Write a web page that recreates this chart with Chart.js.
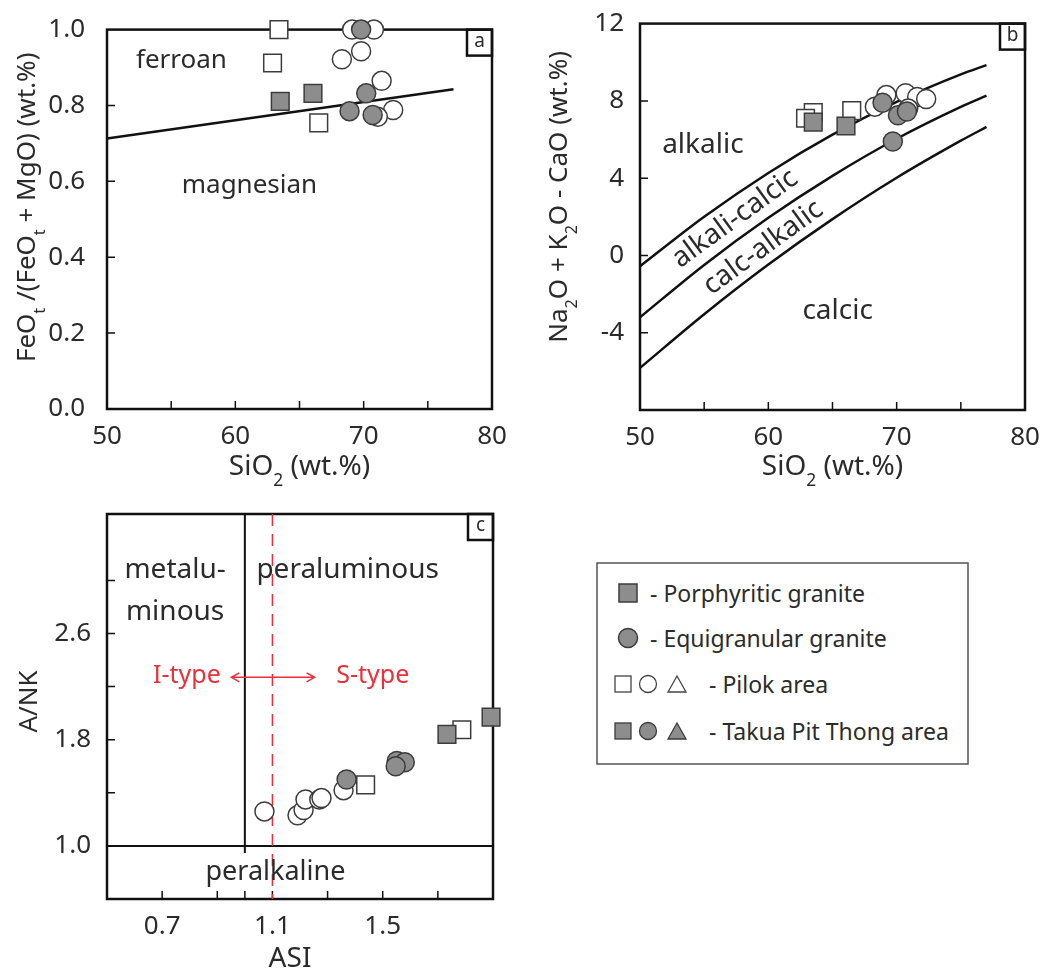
<!DOCTYPE html>
<html>
<head>
<meta charset="utf-8">
<script src="https://cdn.jsdelivr.net/npm/chart.js@4.4.0/dist/chart.umd.min.js"></script>
<style>
  body { margin: 0; background: #fff; width: 1045px; height: 972px; position: relative; overflow: hidden; font-family: 'Noto Sans', sans-serif; }
  canvas { position: absolute; }
  #legend { position: absolute; left: 596px; top: 562px; }
</style>
</head>
<body>
<canvas id="chartA" width="520" height="492" style="left:0;top:0"></canvas>
<canvas id="chartB" width="515" height="492" style="left:530px;top:0"></canvas>
<canvas id="chartC" width="560" height="492" style="left:0;top:480px"></canvas>

<svg id="legend" width="374" height="204" font-family="'Noto Sans', sans-serif" font-size="23" fill="#2b2b2b">
  <rect x="1" y="1" width="371" height="201" fill="#fff" stroke="#555" stroke-width="1.5"/>
  <rect x="23" y="22" width="18" height="18" fill="#8d8d8d" stroke="#3c3c3c" stroke-width="1.5"/>
  <text x="54" y="40">- Porphyritic granite</text>
  <circle cx="32" cy="76" r="9.5" fill="#8d8d8d" stroke="#3c3c3c" stroke-width="1.5"/>
  <text x="54" y="85">- Equigranular granite</text>
  <rect x="19" y="114" width="16" height="16" fill="#fff" stroke="#444" stroke-width="1.3"/>
  <circle cx="52" cy="122" r="8.5" fill="#fff" stroke="#444" stroke-width="1.3"/>
  <polygon points="72,130 90,130 81,114" fill="#fff" stroke="#444" stroke-width="1.3"/>
  <text x="113" y="131">- Pilok area</text>
  <rect x="19" y="161" width="16" height="16" fill="#8d8d8d" stroke="#3c3c3c" stroke-width="1.3"/>
  <circle cx="52" cy="169" r="8.5" fill="#8d8d8d" stroke="#3c3c3c" stroke-width="1.3"/>
  <polygon points="72,177 90,177 81,161" fill="#8d8d8d" stroke="#3c3c3c" stroke-width="1.3"/>
  <text x="113" y="178">- Takua Pit Thong area</text>
</svg>

<script>
// ---- panel a : SiO2 vs FeOt/(FeOt+MgO) ----
const siA_pilokPorph = [63.4, 62.9, 66.5];
const feA_pilokPorph = [1.0, 0.912, 0.754];
const siA_tptPorph = [63.5, 66.05];
const feA_tptPorph = [0.811, 0.832];
const siA_pilokEqui = [69.1, 70.8, 68.3, 69.8, 71.4, 72.3, 71.1];
const feA_pilokEqui = [1.0, 1.0, 0.922, 0.943, 0.865, 0.788, 0.77];
const siA_tptEqui = [69.8, 70.2, 68.9, 70.7];
const feA_tptEqui = [1.0, 0.832, 0.785, 0.775];
const ferroanLineX = [50, 77];
const ferroanLineY = [0.713, 0.843];

// ---- panel b : SiO2 vs Na2O + K2O - CaO ----
const siB_pilokPorph = [63.5, 62.9, 66.5];
const maliB_pilokPorph = [7.4, 7.1, 7.5];
const siB_tptPorph = [63.5, 66.05];
const maliB_tptPorph = [6.9, 6.7];
const siB_pilokEqui = [68.3, 69.2, 70.7, 71.6, 72.3, 70.9];
const maliB_pilokEqui = [7.7, 8.3, 8.4, 8.2, 8.1, 7.6];
const siB_tptEqui = [68.9, 70.1, 70.8, 69.7];
const maliB_tptEqui = [7.9, 7.25, 7.45, 5.9];
const maliCurveX = [50, 55, 60, 65, 70, 75, 77];
const alkalicBoundary = [-0.56, 2.0, 4.27, 6.25, 7.95, 9.37, 9.85];
const alkaliCalcicBoundary = [-3.2, -0.49, 1.95, 4.12, 6.04, 7.69, 8.27];
const calcAlkalicBoundary = [-5.82, -3.04, -0.47, 1.88, 4.02, 5.94, 6.65];

// ---- panel c : ASI vs A/NK ----
const asi_pilokPorph = [1.787, 1.438];
const ank_pilokPorph = [1.875, 1.46];
const asi_tptPorph = [1.893, 1.733];
const ank_tptPorph = [1.97, 1.84];
const asi_pilokEqui = [1.071, 1.191, 1.213, 1.22, 1.27, 1.278, 1.358];
const ank_pilokEqui = [1.26, 1.23, 1.27, 1.35, 1.35, 1.36, 1.42];
const asi_tptEqui = [1.369, 1.551, 1.58, 1.547];
const ank_tptEqui = [1.50, 1.64, 1.63, 1.60];

// ---- ticks ----
const ticksSiO2 = [50, 55, 60, 65, 70, 75, 80];
const labelsSiO2 = [50, 60, 70, 80];
const ticksFe = [0, 0.2, 0.4, 0.6, 0.8, 1.0];
const ticksMali = [-8, -4, 0, 4, 8, 12];
const labelsMali = [-4, 0, 4, 8, 12];
const ticksAsi = [0.7, 0.9, 1.0, 1.1, 1.3, 1.5, 1.7];
const labelsAsi = [0.7, 1.1, 1.5];
const ticksAnk = [1.0, 1.4, 1.8, 2.2, 2.6, 3.0];
const labelsAnk = [1.0, 1.8, 2.6];

const FONT = "'Noto Sans', sans-serif";
const INK = '#2b2b2b';
const GRAY = '#8d8d8d';
const EDGE = '#3c3c3c';
const RED = '#e8313a';

const pts = (xs, ys) => xs.map((x, i) => ({ x: x, y: ys[i] }));

function markers(xs, ys, style, filled, order) {
    return {
        type: 'scatter',
        data: pts(xs, ys),
        pointStyle: style,
        pointRadius: style === 'rect' ? 12.5 : 9.5,
        backgroundColor: filled ? GRAY : '#fff',
        borderColor: EDGE,
        borderWidth: 1.5,
        clip: false,
        order: order
    };
}

function curve(xs, ys) {
    return {
        type: 'line',
        data: pts(xs, ys),
        borderColor: '#111',
        borderWidth: 2.5,
        pointRadius: 0,
        cubicInterpolationMode: 'monotone',
        fill: false,
        clip: false,
        order: 10
    };
}

function axis(min, max, tickVals, labelVals, fmt, pad, fit) {
    return {
        type: 'linear',
        min: min,
        max: max,
        grid: { display: false },
        border: { display: false },
        afterBuildTicks: s => { s.ticks = tickVals.map(v => ({ value: v })); },
        afterFit: fit,
        ticks: {
            autoSkip: false,
            maxRotation: 0,
            padding: pad,
            color: INK,
            font: { family: FONT, size: 26 },
            callback: v => labelVals.some(l => Math.abs(l - v) < 1e-9) ? fmt(v) : ''
        }
    };
}

// draws text with subscripts, centred on cx, baseline at by
function drawRich(ctx, parts, cx, by, size) {
    const sub = size * 0.62;
    let w = 0;
    parts.forEach(([t, s]) => { ctx.font = `${s ? sub : size}px ${FONT}`; w += ctx.measureText(t).width; });
    let xx = cx - w / 2;
    ctx.textAlign = 'left';
    ctx.textBaseline = 'alphabetic';
    parts.forEach(([t, s]) => {
        ctx.font = `${s ? sub : size}px ${FONT}`;
        ctx.fillText(t, xx, by + (s ? size * 0.38 : 0));
        xx += ctx.measureText(t).width;
    });
}

// frame, inward ticks, panel letter, region labels, titles
const deco = {
    id: 'deco',
    beforeDatasetsDraw(chart, args, o) {
        const { ctx, chartArea: a, scales: { x, y } } = chart;
        const X = v => x.getPixelForValue(v);
        const Y = v => y.getPixelForValue(v);
        ctx.save();
        ctx.strokeStyle = '#111';
        ctx.lineWidth = 2.5;
        ctx.strokeRect(a.left, a.top, a.width, a.height);

        ctx.lineWidth = 1.5;
        ctx.beginPath();
        x.ticks.forEach(t => {
            const px = X(t.value);
            if (px <= a.left + 2 || px >= a.right - 2) return;
            ctx.moveTo(px, a.bottom); ctx.lineTo(px, a.bottom - 8);
        });
        y.ticks.forEach(t => {
            const py = Y(t.value);
            if (py <= a.top + 2 || py >= a.bottom - 2) return;
            ctx.moveTo(a.left, py); ctx.lineTo(a.left + 8, py);
        });
        ctx.stroke();

        // letter box
        ctx.lineWidth = 2.5;
        ctx.strokeRect(a.right - 25, a.top, 25, 26);
        ctx.fillStyle = INK;
        ctx.font = `19px ${FONT}`;
        ctx.textAlign = 'center';
        ctx.textBaseline = 'middle';
        ctx.fillText(o.letter, a.right - 12.5, a.top + 12);

        (o.segs || []).forEach(s => {
            ctx.beginPath();
            ctx.strokeStyle = s.color || '#111';
            ctx.lineWidth = s.width || 2;
            ctx.setLineDash(s.dash || []);
            ctx.moveTo(X(s.x1), Y(s.y1));
            ctx.lineTo(X(s.x2), Y(s.y2) + (s.extend || 0));
            ctx.stroke();
            ctx.setLineDash([]);
        });

        (o.arrows || []).forEach(s => {
            const x1 = X(s.x1), x2 = X(s.x2), py = Y(s.y);
            ctx.beginPath();
            ctx.strokeStyle = s.color;
            ctx.lineWidth = 1.5;
            ctx.moveTo(x1, py); ctx.lineTo(x2, py);
            ctx.moveTo(x1 + 8, py - 4.5); ctx.lineTo(x1, py); ctx.lineTo(x1 + 8, py + 4.5);
            ctx.moveTo(x2 - 8, py - 4.5); ctx.lineTo(x2, py); ctx.lineTo(x2 - 8, py + 4.5);
            ctx.stroke();
        });

        (o.texts || []).forEach(t => {
            ctx.save();
            ctx.translate(X(t.x), Y(t.y));
            ctx.rotate((t.rot || 0) * Math.PI / 180);
            ctx.fillStyle = t.color || INK;
            ctx.font = `${t.size}px ${FONT}`;
            ctx.textAlign = 'center';
            ctx.textBaseline = 'middle';
            ctx.fillText(t.text, 0, 0);
            ctx.restore();
        });

        // axis titles
        ctx.fillStyle = INK;
        drawRich(ctx, o.xTitle, (a.left + a.right) / 2 + (o.xShift || 0), a.bottom + o.xGap, 28);
        ctx.translate(a.left - o.yGap, (a.top + a.bottom) / 2 + o.yShift);
        ctx.rotate(-Math.PI / 2);
        drawRich(ctx, o.yTitle, 0, 0, 26);
        ctx.restore();
    }
};

const one = v => v.toFixed(1);
const int = v => String(v);

// ---- chart a ----
new Chart(document.getElementById('chartA'), {
    type: 'scatter',
    data: {
        datasets: [
            markers(siA_tptPorph, feA_tptPorph, 'rect', true, 1),
            markers(siA_tptEqui, feA_tptEqui, 'circle', true, 2),
            markers(siA_pilokPorph, feA_pilokPorph, 'rect', false, 3),
            markers(siA_pilokEqui, feA_pilokEqui, 'circle', false, 4),
            curve(ferroanLineX, ferroanLineY)
        ]
    },
    options: {
        responsive: false,
        animation: false,
        events: [],
        layout: { padding: { top: 23, right: 28, left: 0, bottom: 0 } },
        scales: {
            x: axis(50, 80, ticksSiO2, labelsSiO2, int, 4, s => { s.height = 83; }),
            y: axis(0, 1, ticksFe, ticksFe, one, 14, s => { s.width = 107; })
        },
        plugins: {
            legend: { display: false },
            tooltip: { enabled: false },
            deco: {
                letter: 'a',
                texts: [
                    { x: 55.8, y: 0.917, text: 'ferroan', size: 26 },
                    { x: 61.1, y: 0.59, text: 'magnesian', size: 26 }
                ],
                xTitle: [['SiO', 0], ['2', 1], [' (wt.%)', 0]],
                yTitle: [['FeO', 0], ['t', 1], [' /(FeO', 0], ['t', 1], [' + MgO) (wt.%)', 0]],
                xGap: 66, yGap: 72, yShift: -12
            }
        }
    },
    plugins: [deco]
});

// ---- chart b ----
new Chart(document.getElementById('chartB'), {
    type: 'scatter',
    data: {
        datasets: [
            markers(siB_tptPorph, maliB_tptPorph, 'rect', true, 1),
            markers(siB_tptEqui, maliB_tptEqui, 'circle', true, 2),
            markers(siB_pilokPorph, maliB_pilokPorph, 'rect', false, 3),
            markers(siB_pilokEqui, maliB_pilokEqui, 'circle', false, 4),
            curve(maliCurveX, alkalicBoundary),
            curve(maliCurveX, alkaliCalcicBoundary),
            curve(maliCurveX, calcAlkalicBoundary)
        ]
    },
    options: {
        responsive: false,
        animation: false,
        events: [],
        layout: { padding: { top: 23, right: 20, left: 0, bottom: 0 } },
        scales: {
            x: axis(50, 80, ticksSiO2, labelsSiO2, int, 4, s => { s.height = 82; }),
            y: axis(-8, 12, ticksMali, labelsMali, int, 8, s => { s.width = 110; })
        },
        plugins: {
            legend: { display: false },
            tooltip: { enabled: false },
            deco: {
                letter: 'b',
                texts: [
                    { x: 54.9, y: 5.7, text: 'alkalic', size: 28 },
                    { x: 57.4, y: 1.9, text: 'alkali-calcic', size: 28, rot: -36 },
                    { x: 59.6, y: 0.4, text: 'calc-alkalic', size: 28, rot: -36 },
                    { x: 65.4, y: -2.9, text: 'calcic', size: 28 }
                ],
                xTitle: [['SiO', 0], ['2', 1], [' (wt.%)', 0]],
                yTitle: [['Na', 0], ['2', 1], ['O + K', 0], ['2', 1], ['O - CaO (wt.%)', 0]],
                xGap: 65, yGap: 73, yShift: -20
            }
        }
    },
    plugins: [deco]
});

// ---- chart c ----
new Chart(document.getElementById('chartC'), {
    type: 'scatter',
    data: {
        datasets: [
            markers(asi_tptPorph, ank_tptPorph, 'rect', true, 1),
            markers(asi_tptEqui, ank_tptEqui, 'circle', true, 2),
            markers(asi_pilokPorph, ank_pilokPorph, 'rect', false, 3),
            markers(asi_pilokEqui, ank_pilokEqui, 'circle', false, 4)
        ]
    },
    options: {
        responsive: false,
        animation: false,
        events: [],
        layout: { padding: { top: 34, right: 67, left: 0, bottom: 0 } },
        scales: {
            x: axis(0.5, 1.9, ticksAsi, labelsAsi, one, 4, s => { s.height = 73; }),
            y: axis(0.6, 3.5, ticksAnk, labelsAnk, one, 8, s => { s.width = 107; })
        },
        plugins: {
            legend: { display: false },
            tooltip: { enabled: false },
            deco: {
                letter: 'c',
                segs: [
                    { x1: 0.5, y1: 1.0, x2: 1.9, y2: 1.0, width: 2 },
                    { x1: 1.0, y1: 3.5, x2: 1.0, y2: 1.0, width: 2, extend: 7 },
                    { x1: 1.1, y1: 3.5, x2: 1.1, y2: 0.6, width: 1.5, color: RED, dash: [12, 8] }
                ],
                arrows: [{ x1: 0.951, x2: 1.253, y: 2.27, color: RED }],
                texts: [
                    { x: 0.747, y: 3.075, text: 'metalu-', size: 28 },
                    { x: 0.747, y: 2.76, text: 'minous', size: 28 },
                    { x: 1.373, y: 3.075, text: 'peraluminous', size: 28 },
                    { x: 1.111, y: 0.80, text: 'peralkaline', size: 27 },
                    { x: 0.79, y: 2.28, text: 'I-type', size: 25, color: RED },
                    { x: 1.464, y: 2.28, text: 'S-type', size: 25, color: RED }
                ],
                xTitle: [['ASI', 0]],
                yTitle: [['A/NK', 0]],
                xGap: 68, xShift: -10, yGap: 70, yShift: -5
            }
        }
    },
    plugins: [deco]
});
</script>
</body>
</html>
